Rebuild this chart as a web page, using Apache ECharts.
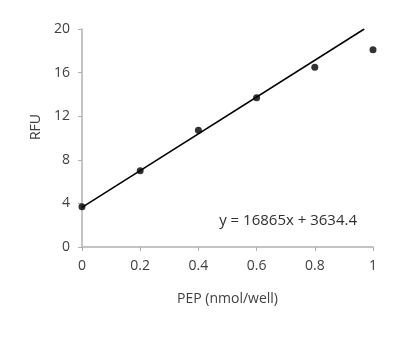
<!DOCTYPE html>
<html>
<head>
<meta charset="utf-8">
<script src="https://cdn.jsdelivr.net/npm/echarts@6/dist/echarts.min.js"></script>
<style>
  html, body { margin: 0; padding: 0; background: #fff; }
  #chart { width: 417px; height: 352px; }
</style>
</head>
<body>
<div id="chart"></div>
<script>
// PEP standard curve (RFU in thousands)
var pep = [0, 0.2, 0.4, 0.6, 0.8, 1];
var rfu = [3.7, 7.0, 10.7, 13.7, 16.5, 18.1];
// trend line endpoints
var trendX = [0, 0.97];
var trendY = [3.63, 20];
var equation = 'y = 16865x + 3634.4';

var dom = document.getElementById('chart');
var myChart = echarts.init(dom);
var font = '"Open Sans", sans-serif';
var axisGray = '#b0b0b0';

var points = pep.map(function (x, i) { return [x, rfu[i]]; });
var trend = trendX.map(function (x, i) { return [x, trendY[i]]; });

var option = {
  animation: false,
  grid: { left: 82, right: 44, top: 29, bottom: 105 },
  xAxis: {
    type: 'value',
    min: 0, max: 1, interval: 0.2,
    name: 'PEP (nmol/well)',
    nameLocation: 'middle',
    nameGap: 45,
    nameTextStyle: { color: '#404040', fontSize: 14, fontFamily: font },
    axisLine: { lineStyle: { color: axisGray, width: 1.5 } },
    axisTick: { show: true, length: 4, lineStyle: { color: axisGray } },
    axisLabel: { color: '#404040', fontSize: 14, fontFamily: font, margin: 12 },
    splitLine: { show: false }
  },
  yAxis: {
    type: 'value',
    min: 0, max: 20, interval: 4,
    name: 'RFU',
    nameLocation: 'middle',
    nameGap: 39,
    nameTextStyle: { color: '#404040', fontSize: 14, fontFamily: font, padding: [0, 0, 0, 22] },
    axisLine: { show: true, lineStyle: { color: axisGray, width: 1.5 } },
    axisTick: { show: true, length: 4, lineStyle: { color: axisGray } },
    axisLabel: { color: '#404040', fontSize: 14, fontFamily: font, margin: 12 },
    splitLine: { show: false }
  },
  series: [
    {
      type: 'line',
      data: trend,
      symbol: 'none',
      lineStyle: { color: '#000', width: 1.5 },
      z: 2
    },
    {
      type: 'scatter',
      data: points,
      symbol: 'circle',
      symbolSize: 7,
      itemStyle: { color: '#000' },
      z: 3
    }
  ],
  graphic: [{
    type: 'text',
    right: 60,
    top: 213,
    style: { text: equation, fill: '#303030', fontSize: 15, fontFamily: font }
  }]
};
myChart.setOption(option);
</script>
</body>
</html>
